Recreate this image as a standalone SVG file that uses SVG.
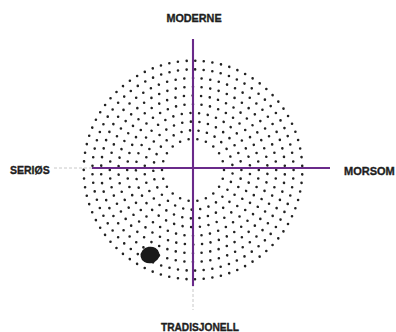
<svg xmlns="http://www.w3.org/2000/svg" width="396" height="332" viewBox="0 0 396 332">
<style>
.lbl{font-family:"Liberation Sans",Arial,sans-serif;font-weight:bold;font-size:10.5px;fill:#1e1e1e;stroke:#1e1e1e;stroke-width:0.35}
.ring{fill:none;stroke:#222;stroke-width:2.6;stroke-linecap:round;stroke-dasharray:0 1}
.axis{stroke:#6a2a8a;stroke-width:2.1;fill:none}
.faint{stroke:#c8c8c8;stroke-width:1;stroke-dasharray:3 2;fill:none}
</style>
<rect width="396" height="332" fill="#fff"/>
<g id="dial">
<circle class="ring" cx="193" cy="170" r="31" pathLength="22"/>
<circle class="ring" cx="193" cy="170" r="39.7" pathLength="29" transform="rotate(5 193 170)"/>
<circle class="ring" cx="193" cy="170" r="48.4" pathLength="35"/>
<circle class="ring" cx="193" cy="170" r="57.1" pathLength="41" transform="rotate(4 193 170)"/>
<circle class="ring" cx="193" cy="170" r="65.8" pathLength="48"/>
<circle class="ring" cx="193" cy="170" r="74.5" pathLength="54" transform="rotate(3 193 170)"/>
<circle class="ring" cx="193" cy="170" r="83.2" pathLength="60"/>
<circle class="ring" cx="193" cy="170" r="91.9" pathLength="66" transform="rotate(2.7 193 170)"/>
<circle class="ring" cx="193" cy="170" r="100.6" pathLength="73"/>
<circle class="ring" cx="193" cy="170" r="109.3" pathLength="79" transform="rotate(2.3 193 170)"/>
</g>
<g id="connectors">
<line class="faint" x1="54" y1="168" x2="94" y2="168"/>
<line class="axis" x1="92" y1="168" x2="330" y2="168"/>
<line class="faint" x1="193" y1="284" x2="193" y2="310"/>
<line class="axis" x1="193" y1="39" x2="193" y2="286"/>
</g>
<g id="marker">
<ellipse cx="150" cy="255" rx="9.5" ry="8.3" fill="#1a1a1a" transform="rotate(-10 150 255)"/>
</g>
<g id="moderne"><text class="lbl" x="194" y="22" text-anchor="middle" style="font-size:10.8px">MODERNE</text></g>
<g id="serios"><text class="lbl" x="10" y="174">SERIØS</text></g>
<g id="morsom"><text class="lbl" x="344" y="175" style="font-size:11px">MORSOM</text></g>
<g id="tradisjonell"><text class="lbl" x="200" y="331" text-anchor="middle" style="font-size:10.2px">TRADISJONELL</text></g>
</svg>
